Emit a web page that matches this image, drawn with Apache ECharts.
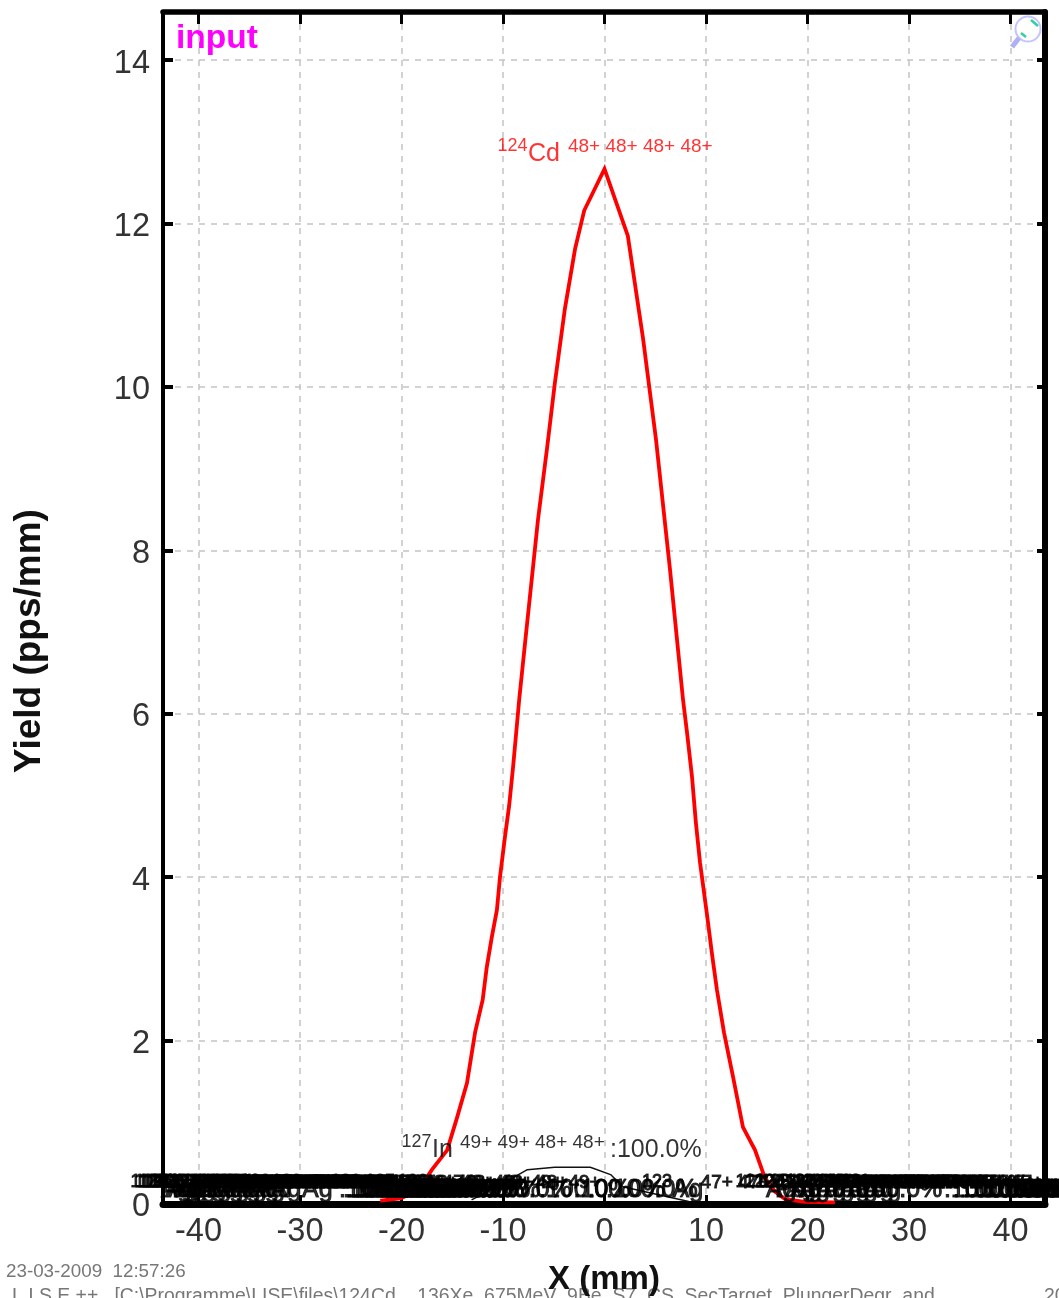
<!DOCTYPE html>
<html><head><meta charset="utf-8">
<style>html,body{margin:0;padding:0;background:#fff;overflow:hidden}#c{width:1059px;height:1298px}</style>
<script src="https://cdn.jsdelivr.net/npm/echarts@6/dist/echarts.min.js"></script>
</head><body><div id="c"></div>
<script>
// Main fragment (124Cd) yield profile: [X mm, Yield pps/mm]
const cdCurve = [[-22.1,.04],[-20.1,.07],[-18.4,.16],[-17,.42],[-15.5,.66],[-14.5,1.07],[-13.55,1.48],[-12.75,2.1],[-12,2.5],[-11.6,2.9],[-11.1,3.27],[-10.6,3.6],[-10.3,4],[-9.8,4.5],[-9.4,4.87],[-9,5.36],[-8.7,5.77],[-8.4,6.18],[-7.8,6.9],[-6.55,8.38],[-5.67,9.24],[-4.9,10.04],[-3.9,10.96],[-2.9,11.69],[-2,12.16],[0,12.67],[2.3,11.85],[3.8,10.59],[5.07,9.36],[6.45,7.77],[7.73,6.18],[8.13,5.77],[8.62,5.23],[9,4.67],[9.41,4.18],[10.1,3.54],[10.6,3.05],[11.08,2.62],[11.77,2.1],[12.66,1.56],[13.64,.94],[14.83,.66],[15.8,.32],[16.8,.15],[17.8,.06],[19.75,.025],[22.7,.02]];
// Small 127In profile
const inCurve = [[-13.1,.05],[-10.3,.23],[-7.6,.42],[-4.9,.45],[-1.4,.45],[.6,.36],[1.8,.21],[4,.15],[6.2,.09],[8.3,.03]];

const xRange = [-43.5, 43.4];
const yRange = [0, 14.59];

// Fragment labels: left edge X, mass, element, charge state
const bandX = [-46.7,-46.3,-46,-45.6,-45.2,-44.8,-44.3,-43.8,-43.3,-42.8,-42.2,-41.6,-41,-40.4,-39.9,-39.3,-38.7,-38.1,-37.5,-36.9,-35.9,-32.8,-27,-23.6,-20.4,3.7,12.9,13.8,14.8,15.4,16.2,17,17.8,18.6,19.4,20.1,20.9,21.7,22.5,23.2];
const bandMass = [118,119,120,121,122,123,120,119,118,121,122,120,123,119,121,122,120,123,121,120,122,123,126,125,126,123,121,122,120,123,121,119,122,120,123,121,122,120,119,121];
const bandElem = ['Ag','Ag','Ag','Pd','Ag','Cd','Ag','Pd','Ag','Ag','Pd','Ag','Ag','Pd','Ag','Ag','Pd','Ag','Ag','Pd','Ag','Ag','Cd','Cd','In','Ag','Ag','Pd','Ag','Ag','Ag','Pd','Ag','Ag','Pd','Ag','Ag','Pd','Ag','Ag'];
const bandCharge = ['47+','47+','47+','46+','47+','48+','47+','46+','47+','47+','46+','47+','47+','46+','47+','47+','46+','47+','47+','46+','47+','47+','48+','48+','49+','47+','47+','46+','47+','47+','47+','46+','47+','47+','46+','47+','47+','46+','47+','47+'];
const bandY = 0.2;
const inLabel = {x:-20, y:0.69, mass:'127', elem:'In', charges:['49+','49+','48+','48+']};
const cdLabel = {x:-10.55, y:12.88, mass:'124', elem:'Cd', charges:['48+','48+','48+','48+']};
const pctText = ':100.0%';

const xTitle = 'X (mm)', yTitle = 'Yield (pps/mm)', tag = 'input';
const stamp = '23-03-2009  12:57:26';
const pathLine = 'L I S E ++   [C:\\Programme\\LISE\\files\\124Cd__136Xe_675MeV_9Be_S7_CS_SecTarget_PlungerDegr_and';
const FF = '"Liberation Sans",Arial,sans-serif';

const rich = (col, elemW, border) => {
  const b = border ? {textBorderColor:col,textBorderWidth:border} : {};
  return {
    m:Object.assign({fontFamily:FF,fontSize:18,color:col,width:30.5,verticalAlign:'top',lineHeight:29},b),
    e:Object.assign({fontFamily:FF,fontSize:25,color:col,width:elemW,verticalAlign:'bottom',lineHeight:29},b),
    c:Object.assign({fontFamily:FF,fontSize:19,color:col,width:37.5,verticalAlign:'top',lineHeight:29},b),
    p:Object.assign({fontFamily:FF,fontSize:25,color:col,verticalAlign:'bottom',lineHeight:29},b)
  };
};
const fmt = (mass,elem,charges,pct) => `{m|${mass}}{e|${elem}}` + charges.map(c=>`{c|${c}}`).join('') + (pct?`{p|${pct}}`:'');
const labelPoint = (x,y,text,r) => ({value:[x,y],label:{show:true,position:'right',distance:0,formatter:text,rich:r}});

const blackPts = bandX.map((x,i)=>labelPoint(x,bandY,fmt(bandMass[i],bandElem[i],[bandCharge[i],bandCharge[i],bandCharge[i],bandCharge[i]],pctText),rich('#000',28,1)));
blackPts.push(labelPoint(inLabel.x,inLabel.y,fmt(inLabel.mass,inLabel.elem,inLabel.charges,pctText),rich('#000',28)));
const redPts = [labelPoint(cdLabel.x,cdLabel.y,fmt(cdLabel.mass,cdLabel.elem,cdLabel.charges,''),rich('#ff0000',40))];

const grid = {left:163,right:14,top:12,bottom:94,containLabel:false};
const gridLine = {show:true,lineStyle:{color:'#c4c4c4',width:1.5,type:[6,6]}};
const mk = (extra) => Object.assign({type:'value'},extra);

const chart = echarts.init(document.getElementById('c'),null,{renderer:'canvas'});
chart.setOption({
  animation:false, backgroundColor:'#fff', grid,
  xAxis:[
    mk({position:'bottom',min:xRange[0],max:xRange[1],splitNumber:8,
      axisLine:{show:true,onZero:false,lineStyle:{color:'#000',width:7}},
      axisTick:{show:true,inside:true,length:9,lineStyle:{color:'#000',width:3}},
      axisLabel:{show:true,margin:12,fontSize:32.5,fontFamily:FF,color:'#333',showMinLabel:false,showMaxLabel:false},
      splitLine:gridLine}),
    mk({position:'top',min:xRange[0],max:xRange[1],splitNumber:8,
      axisLine:{show:true,onZero:false,lineStyle:{color:'#000',width:5.5}},
      axisTick:{show:true,inside:true,length:12,lineStyle:{color:'#000',width:3}},
      axisLabel:{show:false},splitLine:{show:false}})
  ],
  yAxis:[
    mk({position:'left',min:yRange[0],max:yRange[1],splitNumber:7,
      axisLine:{show:true,onZero:false,lineStyle:{color:'#000',width:4}},
      axisTick:{show:true,inside:true,length:10,lineStyle:{color:'#000',width:4}},
      axisLabel:{show:true,margin:13,showMaxLabel:false,formatter:'{a|{value}}',
        rich:{a:{fontSize:32.5,fontFamily:FF,color:'#333',lineHeight:40,verticalAlign:'bottom'}}},
      splitLine:gridLine}),
    mk({position:'right',min:yRange[0],max:yRange[1],splitNumber:7,
      axisLine:{show:true,onZero:false,lineStyle:{color:'#000',width:6}},
      axisTick:{show:true,inside:true,length:8,lineStyle:{color:'#000',width:4}},
      axisLabel:{show:false},splitLine:{show:false}})
  ],
  series:[
    {type:'line',data:inCurve,showSymbol:false,clip:false,lineStyle:{color:'#111',width:1.5},z:3},
    {type:'line',data:cdCurve,showSymbol:false,clip:false,lineStyle:{color:'#ff0000',width:3.8,join:'miter'},z:4},
    {type:'scatter',data:blackPts,symbolSize:0,clip:false,silent:true,z:5},
    {type:'scatter',data:redPts,symbolSize:0,clip:false,silent:true,z:5}
  ],
  graphic:[
    {type:'text',left:176,top:22,silent:true,style:{text:tag,font:'bold 33.5px '+FF,fill:'#ff00ff'}},
    {type:'text',x:30,y:641,rotation:Math.PI/2,silent:true,style:{text:yTitle,font:'bold 37px '+FF,fill:'#111',textAlign:'center',textVerticalAlign:'middle'}},
    {type:'text',x:604,y:1280,silent:true,z:20,style:{text:xTitle,font:'bold 33px '+FF,fill:'#111',textAlign:'center',textVerticalAlign:'middle'}},
    {type:'text',x:6,y:1262,silent:true,style:{text:stamp,font:'18.8px '+FF,fill:'#777',textVerticalAlign:'top'}},
    {type:'text',x:12,y:1287,silent:true,style:{text:pathLine,font:'19.4px '+FF,fill:'#777',textVerticalAlign:'top'}},
    {type:'text',x:1044,y:1287,silent:true,style:{text:'20',font:'19.4px '+FF,fill:'#777',textVerticalAlign:'top'}},
    {type:'circle',shape:{cx:1028,cy:29,r:12.5},silent:true,style:{fill:'rgba(255,255,255,0)',stroke:'#c4c4ff',lineWidth:2}},
    {type:'line',shape:{x1:1019,y1:38,x2:1012,y2:47},silent:true,style:{stroke:'#b0b0f4',lineWidth:5}},
    {type:'line',shape:{x1:1031,y1:20,x2:1038,y2:26},silent:true,style:{stroke:'#30d0a0',lineWidth:2.5}},
    {type:'line',shape:{x1:1021,y1:33,x2:1026,y2:37},silent:true,style:{stroke:'#30d0a0',lineWidth:2.5}}
  ]
});
</script></body></html>
